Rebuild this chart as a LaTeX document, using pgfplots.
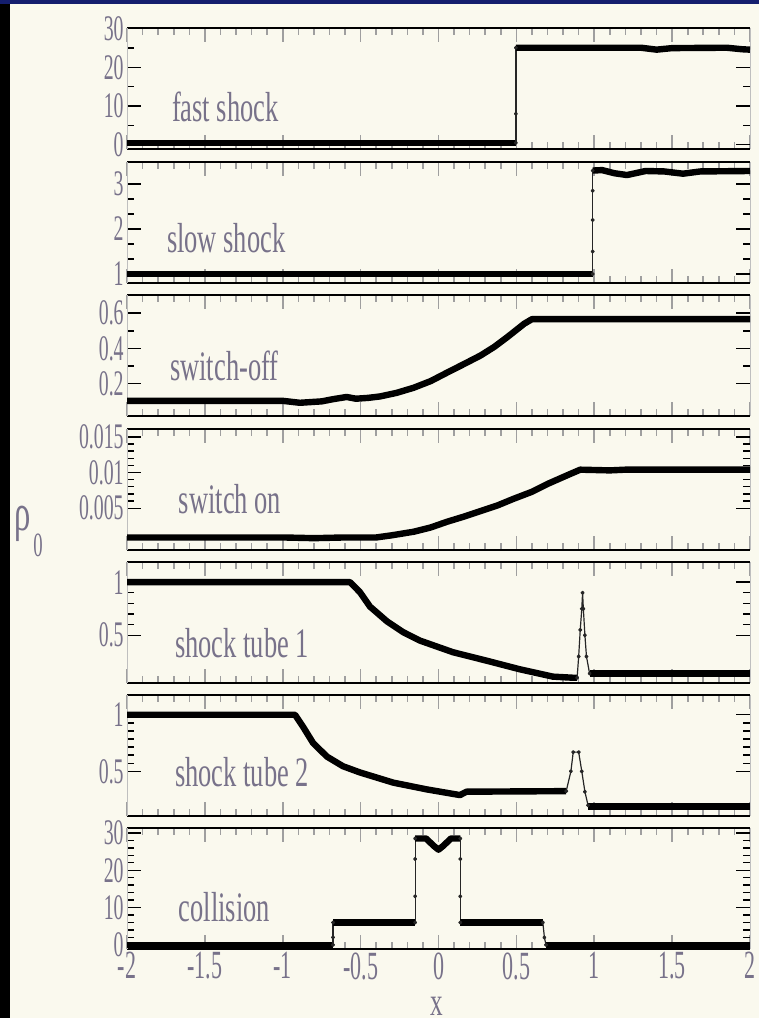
\documentclass[border=0pt]{standalone}
\usepackage{pgfplots}
\pgfplotsset{compat=1.18}
\usepackage{fontspec}
\setmainfont[FakeStretch=0.63]{Liberation Serif}
\newfontfamily\tickfont[FakeStretch=0.55]{Liberation Serif}
\definecolor{cream}{RGB}{250,249,238}
\definecolor{txt}{RGB}{120,114,138}
\definecolor{navy}{RGB}{20,30,110}
\tikzset{
 thk/.style={black, line width=3.2pt},
 thn/.style={black!85, line width=0.6pt, mark=*, mark size=0.7pt},
 lab/.style={anchor=west, text=txt, font=\fontsize{21}{21}\selectfont},
}
\pgfplotsset{
 panel/.style={
  scale only axis, width=311.5pt, height=60.5pt, anchor=north west,
  xmin=-2, xmax=2,
  axis lines=box, separate axis lines,
  x axis line style={black, line width=0.8pt},
  y axis line style={gray!50, line width=0.4pt},
  xtick={-2,-1.5,...,2}, minor x tick num=4,
  xticklabels={},
  x tick style={gray!75, line width=0.8pt},
  y tick style={black, line width=0.7pt},
  major tick length=7pt, minor tick length=3.5pt,
  tick align=inside,
  scaled y ticks=false, scaled x ticks=false,
  yticklabel style={font=\tickfont\fontsize{18}{18}\selectfont, text=txt, inner xsep=1.5pt, inner ysep=0pt},
  xticklabel style={font=\tickfont\fontsize{20}{20}\selectfont, text=txt, inner ysep=1.5pt, inner xsep=0pt},
  every axis plot/.append style={line join=round},
 },
}
\begin{document}
\begin{tikzpicture}
\useasboundingbox (0,0) rectangle (379.5pt,-509pt);
\fill[cream] (0,0) rectangle (379.5pt,-509pt);
\fill[black] (0,0) rectangle (5pt,-509pt);
\fill[navy] (0,0) rectangle (379.5pt,-2pt);

% fast shock
\begin{axis}[panel, at={(63.5pt,-14pt)}, ymin=-1.1, ymax=30.2, ytick={0,10,20,30}, yticklabels={0,10,20,30}, minor y tick num=1]
\addplot[thk] coordinates {(-2,0.5)(0.497,0.5)};
\addplot[thn] coordinates {(0.497,0.5)(0.497,8)(0.497,25.1)};
\addplot[thk] coordinates {(0.497,25.1)(1.3,25.1)(1.4,24.6)(1.5,25.0)(1.85,25.1)(1.95,24.7)(2,24.6)};
\node[lab] at (rel axis cs:0.061,0.344) {fast shock};
\end{axis}

% slow shock
\begin{axis}[panel, at={(63.5pt,-81pt)}, ymin=0.8, ymax=3.49, ytick={1,2,3}, yticklabels={1,2,3}, minor y tick num=2]
\addplot[thk] coordinates {(-2,1)(0.99,1)};
\addplot[thn] coordinates {(0.99,1)(0.99,1.5)(0.99,2.2)(0.99,2.85)(0.99,3.3)};
\addplot[thk] coordinates {(0.99,3.3)(1.05,3.31)(1.13,3.24)(1.21,3.2)(1.33,3.29)(1.45,3.28)(1.57,3.23)(1.68,3.28)(2,3.29)};
\node[lab] at (rel axis cs:0.053,0.367) {slow shock};
\end{axis}

% switch-off
\begin{axis}[panel, at={(63.5pt,-147.5pt)}, ymin=0.017, ymax=0.703, ytick={0.2,0.4,0.6}, yticklabels={0.2,0.4,0.6}, minor y tick num=1]
\addplot[thk] coordinates {(-2,0.103)(-1.0,0.103)(-0.89,0.092)(-0.75,0.1)(-0.68,0.112)(-0.59,0.125)(-0.53,0.115)(-0.45,0.12)(-0.375,0.128)(-0.27,0.148)(-0.16,0.177)(-0.05,0.215)(0.055,0.263)(0.16,0.31)(0.27,0.36)(0.36,0.41)(0.44,0.463)(0.5,0.505)(0.55,0.54)(0.6,0.566)(2,0.566)};
\node[lab] at (rel axis cs:0.058,0.417) {switch-off};
\end{axis}

% switch on
\begin{axis}[panel, at={(63.5pt,-214.5pt)}, ymin=-0.00086, ymax=0.0161, ytick={0.005,0.01,0.015}, yticklabels={0.005,0.01,0.015}, minor y tick num=4]
\addplot[thk] coordinates {(-2,0.0009)(-1.0,0.0009)(-0.8,0.0008)(-0.6,0.0009)(-0.4,0.0009)(-0.3,0.0012)(-0.16,0.0017)(-0.05,0.0023)(0.055,0.0031)(0.16,0.0038)(0.27,0.0046)(0.38,0.0054)(0.48,0.0063)(0.6,0.0073)(0.7,0.0084)(0.825,0.0096)(0.91,0.0104)(1.1,0.0103)(1.2,0.0104)(2,0.0104)};
\node[lab] at (rel axis cs:0.072,0.42) {switch on};
\end{axis}

% shock tube 1
\begin{axis}[panel, at={(63.5pt,-281pt)}, ymin=0.05, ymax=1.19, ytick={0.5,1}, yticklabels={0.5,1}, minor y tick num=4]
\addplot[thk] coordinates {(-2,1)(-0.568,1)(-0.504,0.905)(-0.44,0.77)(-0.33,0.63)(-0.228,0.53)(-0.12,0.45)(0.093,0.34)(0.31,0.26)(0.52,0.18)(0.735,0.11)(0.86,0.1)(0.89,0.1)};
\addplot[thn] coordinates {(0.89,0.1)(0.9,0.3)(0.91,0.55)(0.92,0.75)(0.925,0.9)(0.93,0.75)(0.94,0.5)(0.95,0.3)(0.97,0.14)};
\addplot[thk] coordinates {(0.97,0.14)(2,0.14)};
\node[lab] at (rel axis cs:0.066,0.33) {shock tube 1};
\end{axis}

% shock tube 2
\begin{axis}[panel, at={(63.5pt,-347.5pt)}, ymin=0.105, ymax=1.175, ytick={0.5,1}, yticklabels={0.5,1}, minor y tick num=6]
\addplot[thk] coordinates {(-2,1)(-0.921,1)(-0.87,0.895)(-0.805,0.75)(-0.716,0.63)(-0.613,0.545)(-0.504,0.49)(-0.29,0.4)(-0.074,0.34)(0.138,0.29)(0.18,0.32)(0.82,0.325)};
\addplot[thn] coordinates {(0.82,0.325)(0.85,0.5)(0.865,0.67)(0.9,0.67)(0.92,0.5)(0.94,0.32)(0.96,0.2)};
\addplot[thk] coordinates {(0.96,0.19)(2,0.19)};
\node[lab] at (rel axis cs:0.066,0.36) {shock tube 2};
\end{axis}

% collision
\begin{axis}[panel, at={(63.5pt,-414pt)}, ymin=-1.1, ymax=31.3, ytick={0,10,20,30}, yticklabels={0,10,20,30}, minor y tick num=4,
  xticklabels={-2,-1.5,-1,-0.5,0,0.5,1,1.5,2}]
\addplot[thk] coordinates {(-2,0)(-0.677,0)};
\addplot[thn] coordinates {(-0.677,0)(-0.677,2)(-0.677,6)};
\addplot[thk] coordinates {(-0.677,6)(-0.15,6)};
\addplot[thn] coordinates {(-0.15,6)(-0.15,13)(-0.15,23)(-0.15,28.5)};
\addplot[thk] coordinates {(-0.15,28.5)(-0.08,28.5)(-0.03,26.5)(0,25.5)(0.03,26.5)(0.08,28.5)(0.14,28.5)};
\addplot[thn] coordinates {(0.14,28.5)(0.14,23)(0.14,13)(0.14,6)};
\addplot[thk] coordinates {(0.14,6)(0.67,6)};
\addplot[thn] coordinates {(0.67,6)(0.68,2)(0.69,0)};
\addplot[thk] coordinates {(0.69,0)(2,0)};
\node[lab] at (rel axis cs:0.072,0.347) {collision};
\end{axis}

\node[anchor=base west, text=txt, font=\fontsize{26}{26}\selectfont, inner sep=0pt] at (7pt,-265pt) {ρ};
\node[anchor=base west, text=txt, font=\tickfont\fontsize{17}{17}\selectfont, inner sep=0pt] at (16.5pt,-278pt) {0};
\node[anchor=base, text=txt, font=\fontsize{20}{20}\selectfont, inner sep=0pt] at (218.5pt,-507.5pt) {x};
\end{tikzpicture}
\end{document}
